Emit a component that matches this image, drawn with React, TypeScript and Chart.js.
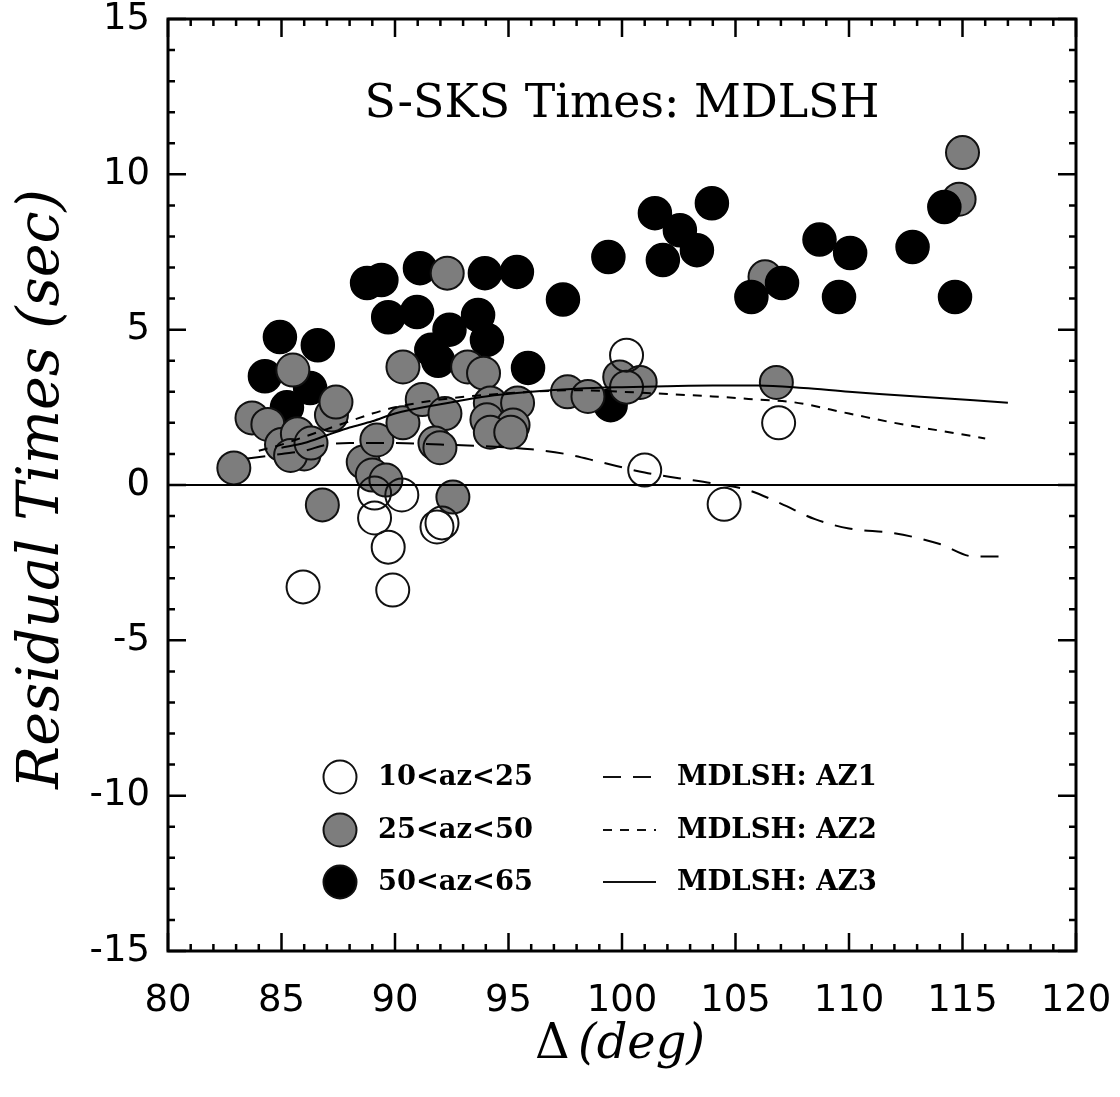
import React, { useEffect, useRef } from "react";
import { Chart, registerables } from "chart.js";

Chart.register(...registerables);

// ---------- data ----------
const xRange = [80, 120];
const yRange = [-15, 15];
const xTickStep = 5;
const yTickStep = 5;

const openX = [85.95, 89.1, 90.3, 89.1, 89.7, 89.9, 91.85, 92.07, 100.2, 101.0, 104.5, 106.9];
const openY = [-3.28, -0.26, -0.32, -1.06, -2.0, -3.38, -1.35, -1.22, 4.18, 0.48, -0.62, 2.0];

// 25<az<50 points (drawn above the black ones)
const grayX = [
  82.9, 83.7, 84.4, 85.5, 85.0, 85.7, 86.0, 85.4, 86.3, 87.2, 87.4, 86.8, 88.6, 89.0, 89.6, 89.2,
  90.35, 90.35, 91.2, 92.2, 91.76, 91.98, 92.55, 92.3, 93.2, 93.9, 94.2, 95.4, 94.05, 95.2, 94.2,
  95.1, 97.6, 98.5, 99.9, 100.8, 100.2, 106.8, 115.0,
];
const grayY = [
  0.55, 2.16, 1.95, 3.7, 1.3, 1.65, 1.0, 0.95, 1.35, 2.25, 2.67, -0.64, 0.74, 0.32, 0.16, 1.45,
  2.0, 3.8, 2.75, 2.3, 1.35, 1.2, -0.39, 6.82, 3.8, 3.6, 2.64, 2.64, 2.1, 1.93, 1.7,
  1.7, 3.0, 2.85, 3.48, 3.3, 3.15, 3.3, 10.7,
];
// 25<az<50 points partly hidden behind black ones
const grayUnderX = [106.3, 114.85];
const grayUnderY = [6.7, 9.2];

const blackX = [
  84.93, 86.6, 84.27, 86.26, 85.24, 88.77, 89.4, 91.1, 93.96, 95.37, 89.7, 90.97, 93.66, 92.4,
  91.6, 94.05, 91.9, 95.86, 97.4, 99.4, 99.5, 101.45, 103.96, 102.55, 101.8, 103.3, 105.7,
  107.05, 108.7, 110.05, 112.8, 109.56, 114.67, 114.2,
];
const blackY = [
  4.76, 4.5, 3.5, 3.12, 2.5, 6.5, 6.6, 6.98, 6.82, 6.86, 5.4, 5.57, 5.47, 5.0,
  4.35, 4.67, 4.0, 3.77, 5.97, 7.34, 2.57, 8.75, 9.07, 8.2, 7.24, 7.56, 6.05,
  6.5, 7.9, 7.47, 7.66, 6.05, 6.05, 8.95,
];

const az1X = [83.5, 85, 86, 87, 88, 90, 92, 94, 96, 97.5, 99, 101, 102.5, 104, 105.5, 107, 108.5, 110, 112, 114, 115.5, 117];
const az1Y = [0.85, 1.0, 1.1, 1.3, 1.35, 1.35, 1.3, 1.25, 1.15, 1.0, 0.75, 0.4, 0.22, 0.05, -0.15, -0.6, -1.1, -1.4, -1.55, -1.9, -2.3, -2.3];

const az2X = [84, 85, 86, 87, 88, 89, 90, 92, 94, 96, 98, 100, 102, 104, 106, 107.5, 110, 112, 114, 116];
const az2Y = [1.1, 1.3, 1.55, 1.8, 2.05, 2.3, 2.5, 2.75, 2.9, 3.0, 3.05, 3.0, 2.93, 2.85, 2.75, 2.67, 2.3, 2.0, 1.75, 1.5];

const az3X = [85, 86, 87, 88, 89, 90, 92, 94, 96, 98, 100, 102, 104, 106, 108, 110, 112, 114, 117];
const az3Y = [1.2, 1.35, 1.6, 1.85, 2.05, 2.3, 2.6, 2.85, 3.0, 3.1, 3.15, 3.18, 3.2, 3.2, 3.12, 3.0, 2.9, 2.8, 2.65];

const zeroX = [80, 120];
const zeroY = [0, 0];

const titleText = "S-SKS Times: MDLSH";
const yTitleText = "Residual Times (sec)";
const xTitleSymbol = "\u0394";
const xTitleUnit = "(deg)";
const markerLabels = ["10<az<25", "25<az<50", "50<az<65"];
const lineLabels = ["MDLSH: AZ1", "MDLSH: AZ2", "MDLSH: AZ3"];

// ---------- styles ----------
const GRAY = "#7d7d7d";
const DASH1 = [18, 12];
const DASH2 = [9, 8];
const R = 16.5;

const zip = (xs: number[], ys: number[]) => xs.map((x, i) => ({ x, y: ys[i] }));

function fitFont(ctx: CanvasRenderingContext2D, text: string, style: string, family: string, width: number) {
  ctx.font = `${style} 100px ${family}`;
  const w = ctx.measureText(text).width;
  const size = (100 * width) / w;
  ctx.font = `${style} ${size}px ${family}`;
  return size;
}

const decor = {
  id: "decor",
  afterDraw(chart: any) {
    const { ctx, chartArea: a, scales } = chart;
    const xs = scales.x;
    const ys = scales.y;
    ctx.save();
    ctx.strokeStyle = "#000";
    ctx.fillStyle = "#000";
    // ticks (inward) on all sides
    ctx.lineWidth = 2.5;
    ctx.beginPath();
    for (let v = xRange[0]; v <= xRange[1]; v++) {
      const px = xs.getPixelForValue(v);
      const L = v % 5 === 0 ? 18 : 7;
      ctx.moveTo(px, a.bottom);
      ctx.lineTo(px, a.bottom - L);
      ctx.moveTo(px, a.top);
      ctx.lineTo(px, a.top + L);
    }
    for (let v = yRange[0]; v <= yRange[1]; v++) {
      const py = ys.getPixelForValue(v);
      const L = v % 5 === 0 ? 18 : 7;
      ctx.moveTo(a.left, py);
      ctx.lineTo(a.left + L, py);
      ctx.moveTo(a.right, py);
      ctx.lineTo(a.right - L, py);
    }
    ctx.stroke();
    // frame
    ctx.lineWidth = 3;
    ctx.strokeRect(a.left, a.top, a.right - a.left, a.bottom - a.top);

    // title
    ctx.textAlign = "center";
    ctx.textBaseline = "alphabetic";
    fitFont(ctx, titleText, "normal", "'DejaVu Serif'", 515);
    ctx.fillText(titleText, 622, 117);

    // y title
    ctx.save();
    ctx.translate(58, 489);
    ctx.rotate(-Math.PI / 2);
    fitFont(ctx, yTitleText, "italic", "'DejaVu Serif'", 600);
    ctx.textAlign = "center";
    ctx.fillText(yTitleText, 0, 0);
    ctx.restore();

    // x title
    ctx.textAlign = "left";
    const s1 = fitFont(ctx, xTitleUnit, "italic", "'DejaVu Serif'", 127);
    ctx.fillText(xTitleUnit, 578, 1058);
    ctx.font = `normal ${s1}px 'DejaVu Serif'`;
    ctx.fillText(xTitleSymbol, 535, 1058);

    // legend
    const rowsY = [777, 830, 882];
    const markerFill = ["rgba(0,0,0,0)", GRAY, "#000"];
    ctx.textBaseline = "middle";
    rowsY.forEach((yy, i) => {
      ctx.beginPath();
      ctx.arc(340, yy, R, 0, Math.PI * 2);
      ctx.fillStyle = markerFill[i];
      ctx.fill();
      ctx.lineWidth = 2;
      ctx.strokeStyle = "#111";
      ctx.stroke();
      ctx.fillStyle = "#000";
      fitFont(ctx, markerLabels[i], "bold", "'DejaVu Serif'", 155);
      ctx.fillText(markerLabels[i], 378, yy + 1);
      // line sample
      ctx.beginPath();
      ctx.lineWidth = 2;
      ctx.setLineDash(i === 0 ? DASH1 : i === 1 ? DASH2 : []);
      ctx.moveTo(603, yy);
      ctx.lineTo(656, yy);
      ctx.stroke();
      ctx.setLineDash([]);
      fitFont(ctx, lineLabels[i], "bold", "'DejaVu Serif'", 200);
      ctx.fillText(lineLabels[i], 677, yy + 1);
    });
    ctx.restore();
  },
};

export default function App() {
  const ref = useRef<HTMLCanvasElement>(null);
  useEffect(() => {
    const canvas = ref.current;
    if (!canvas) return;
    const lineBase = {
      type: "line" as const,
      showLine: true,
      pointRadius: 0,
      borderColor: "#000",
      borderWidth: 2,
      fill: false,
      cubicInterpolationMode: "monotone" as const,
    };
    const grayStyle = {
      pointRadius: R,
      backgroundColor: GRAY,
      borderColor: "#111",
      borderWidth: 2,
    };
    const chart = new Chart(canvas, {
      type: "scatter",
      data: {
        datasets: [
          { ...lineBase, label: "zero", data: zip(zeroX, zeroY), order: 0 },
          { ...lineBase, label: "MDLSH: AZ1", data: zip(az1X, az1Y), borderDash: DASH1, order: 1 },
          { ...lineBase, label: "MDLSH: AZ2", data: zip(az2X, az2Y), borderDash: DASH2, order: 1 },
          { ...lineBase, label: "MDLSH: AZ3", data: zip(az3X, az3Y), order: 1 },
          {
            label: "10<az<25",
            data: zip(openX, openY),
            pointRadius: R,
            backgroundColor: "rgba(0,0,0,0)",
            borderColor: "#111",
            borderWidth: 2,
            order: 2,
          },
          { ...grayStyle, label: "25<az<50", data: zip(grayX, grayY), order: 3 },
          {
            label: "50<az<65",
            data: zip(blackX, blackY),
            pointRadius: R,
            backgroundColor: "#000",
            borderColor: "#000",
            borderWidth: 1.5,
            order: 4,
          },
          { ...grayStyle, label: "25<az<50 (under)", data: zip(grayUnderX, grayUnderY), order: 5 },
        ] as any,
      },
      options: {
        animation: false,
        responsive: false,
        devicePixelRatio: 1,
        events: [],
        layout: { padding: { top: 19, right: 44, left: 0, bottom: 0 } },
        plugins: { legend: { display: false }, tooltip: { enabled: false }, title: { display: false } },
        scales: {
          x: {
            type: "linear",
            position: "bottom",
            min: xRange[0],
            max: xRange[1],
            grid: { display: false, drawTicks: false },
            border: { display: false },
            ticks: {
              stepSize: xTickStep,
              color: "#000",
              padding: 28,
              font: { family: "'DejaVu Sans'", size: 37 },
              callback: (v: any) => String(v),
            },
            afterFit: (s: any) => {
              s.height = 146;
              s.paddingLeft = 0;
              s.paddingRight = 0;
              s.paddingTop = 0;
              s.paddingBottom = 0;
            },
          },
          y: {
            type: "linear",
            min: yRange[0],
            max: yRange[1],
            grid: { display: false, drawTicks: false },
            border: { display: false },
            ticks: {
              stepSize: yTickStep,
              color: "#000",
              padding: 18,
              font: { family: "'DejaVu Sans'", size: 37 },
              callback: (v: any) => String(v),
            },
            afterFit: (s: any) => {
              s.width = 168;
              s.paddingLeft = 0;
              s.paddingRight = 0;
              s.paddingTop = 0;
              s.paddingBottom = 0;
            },
          },
        },
      },
      plugins: [decor],
    });
    return () => chart.destroy();
  }, []);
  return (
    <div style={{ position: "absolute", left: 0, top: 0, width: 1120, height: 1097, background: "#fff" }}>
      <canvas ref={ref} width={1120} height={1097} style={{ display: "block" }} />
    </div>
  );
}
